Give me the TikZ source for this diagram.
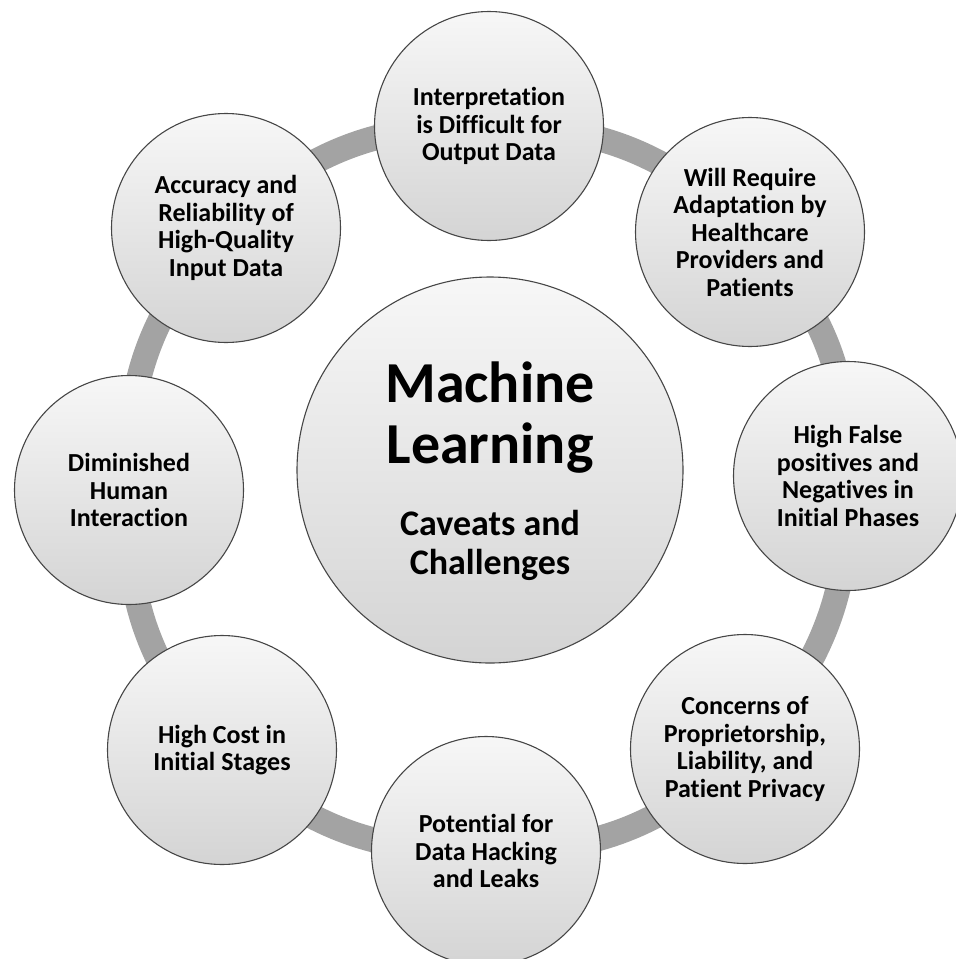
\documentclass[tikz,border=0pt]{standalone}
\usepackage{fontspec}
\setmainfont{Carlito}[RawFeature={-liga;-clig;-dlig}]
\usetikzlibrary{backgrounds}
\definecolor{ringgray}{RGB}{163,163,163}
\definecolor{edgegray}{RGB}{70,70,70}
\definecolor{shadetop}{RGB}{247,247,247}
\definecolor{shadebot}{RGB}{212,212,212}
\tikzset{
  bubble/.style={circle, draw=edgegray, line width=1.1pt, inner sep=0pt,
    minimum size=229pt, top color=shadetop, bottom color=shadebot,
    align=center, font=\bfseries\fontsize{26}{27.5}\selectfont},
  hub/.style={circle, draw=edgegray, line width=1.1pt, inner sep=0pt,
    minimum size=386pt, top color=shadetop, bottom color=shadebot},
  bigtxt/.style={anchor=base, inner sep=0pt, font=\bfseries\fontsize{58}{62}\selectfont},
  subtxt/.style={anchor=base, inner sep=0pt, font=\bfseries\fontsize{36}{39}\selectfont},
  ringarc/.style={draw=ringgray, line width=25pt, bend left=22.5}
}
\begin{document}
\begin{tikzpicture}[x=1pt,y=-1pt]
\useasboundingbox (0,0) rectangle (956,959);
\node[hub] (ml) at (490,470) {};
\node[bigtxt] (ml1) at (490,402) {Machine};
\node[bigtxt] (ml2) at (490,463) {Learning};
\node[subtxt] (ml3) at (490,535) {Caveats and};
\node[subtxt] (ml4) at (490,574) {Challenges};
\node[bubble] (n1) at (489,126) {Interpretation\\is Difficult for\\Output Data};
\node[bubble] (n2) at (750,232) {Will Require\\Adaptation by\\Healthcare\\Providers and\\Patients};
\node[bubble] (n3) at (848,476) {High False\\positives and\\Negatives in\\Initial Phases};
\node[bubble] (n4) at (745,749) {Concerns of\\Proprietorship,\\Liability, and\\Patient Privacy};
\node[bubble] (n5) at (486,851) {Potential for\\Data Hacking\\and Leaks};
\node[bubble] (n6) at (222,750) {High Cost in\\Initial Stages};
\node[bubble] (n7) at (129,490) {Diminished\\Human\\Interaction};
\node[bubble] (n8) at (226,228) {Accuracy and\\Reliability of\\High-Quality\\Input Data};
\begin{pgfonlayer}{background}
\draw[ringarc] (n1.center) to (n2.center);
\draw[ringarc] (n2.center) to (n3.center);
\draw[ringarc] (n3.center) to (n4.center);
\draw[ringarc] (n4.center) to (n5.center);
\draw[ringarc] (n5.center) to (n6.center);
\draw[ringarc] (n6.center) to (n7.center);
\draw[ringarc] (n7.center) to (n8.center);
\draw[ringarc] (n8.center) to (n1.center);
\end{pgfonlayer}
\end{tikzpicture}
\end{document}
